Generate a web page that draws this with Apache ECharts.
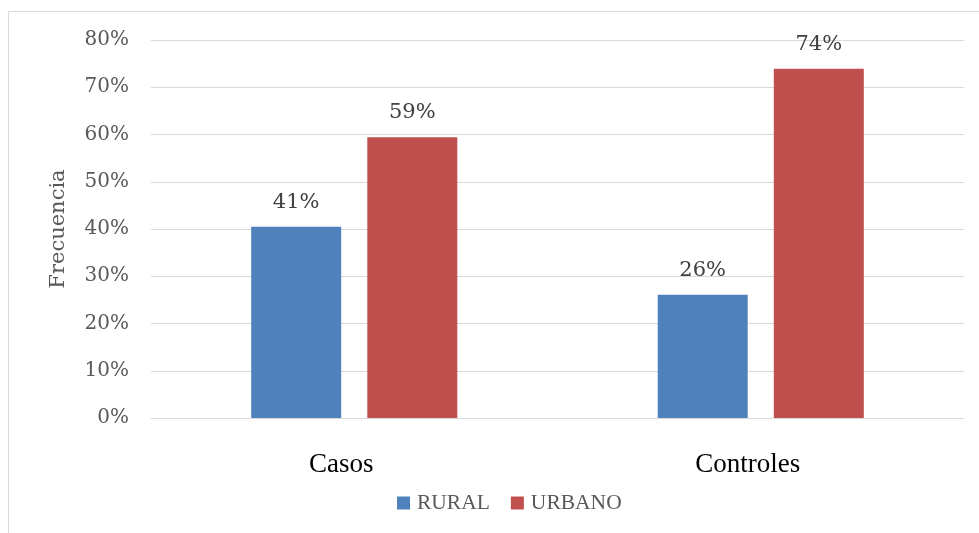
<!DOCTYPE html>
<html>
<head>
<meta charset="utf-8">
<script src="https://cdn.jsdelivr.net/npm/echarts@6/dist/echarts.min.js"></script>
<style>
	html, body { margin: 0; padding: 0; background: #fff; }
	#chart { width: 979px; height: 533px; }
</style>
</head>
<body>
<div id="chart"></div>
<script>
	// 数据
	const categories = ["Casos", "Controles"];
	const rural = [40.5, 26.1];
	const urbano = [59.4, 73.9];
	const seriesNames = ["RURAL", "URBANO"];
	const colors = ["#4f81bd", "#c0504d"];

	const serifA = "'DejaVu Serif', serif";      // 刻度/数值
	const serifB = "'Liberation Serif', serif";  // 类目/图例
	const textColor = "#595959";

	const chart = echarts.init(document.getElementById("chart"));

	const labelOpt = {
		show: true,
		position: "top",
		distance: 14,
		color: "#404040",
		fontFamily: serifA,
		fontSize: 21,
		formatter: p => Math.round(p.value) + "%"
	};

	const option = {
		animation: false,
		graphic: [{
			type: "rect",
			shape: { x: 8.5, y: 11.5, width: 1200, height: 800 },
			style: { fill: "none", stroke: "#d9d9d9", lineWidth: 1 },
			silent: true
		}],
		grid: {
			left: 151,
			right: 15,
			top: 40,
			bottom: 115
		},
		legend: {
			data: seriesNames,
			bottom: 14,
			left: 392,
			icon: "rect",
			itemWidth: 13,
			itemHeight: 13,
			itemGap: 21,
			textStyle: { color: textColor, fontSize: 21.5, fontFamily: serifB, padding: [0, 0, 0, 2] }
		},
		xAxis: {
			type: "category",
			data: categories,
			axisLine: { lineStyle: { color: "#d9d9d9", width: 1 } },
			axisTick: { show: false },
			axisLabel: { color: "#000", fontSize: 27, margin: 33, fontFamily: serifB, padding: [0, 26, 0, 0] }
		},
		yAxis: {
			type: "value",
			min: 0,
			max: 80,
			interval: 10,
			name: "Frecuencia",
			nameLocation: "middle",
			nameGap: 82,
			nameTextStyle: { color: textColor, fontSize: 21, fontFamily: serifA },
			axisLine: { show: false },
			axisTick: { show: false },
			axisLabel: {
				color: textColor,
				fontSize: 20,
				margin: 22,
				fontFamily: serifA,
				formatter: v => v + "%"
			},
			splitLine: { lineStyle: { color: "#d9d9d9", width: 1 } }
		},
		series: [{
			name: seriesNames[0],
			type: "bar",
			data: rural,
			barWidth: 90,
			barGap: "29%",
			itemStyle: { color: colors[0] },
			label: labelOpt
		}, {
			name: seriesNames[1],
			type: "bar",
			data: urbano,
			barWidth: 90,
			itemStyle: { color: colors[1] },
			label: labelOpt
		}]
	};
	chart.setOption(option);
</script>
</body>
</html>
